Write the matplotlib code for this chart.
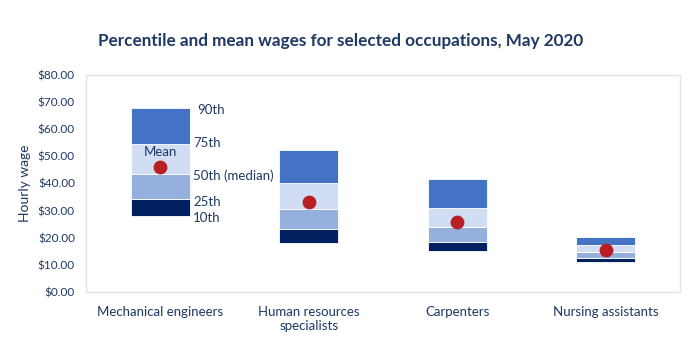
import matplotlib.pyplot as plt
import numpy as np

# hourly wage percentiles, May 2020
occupations = ["Mechanical engineers", "Human resources\nspecialists", "Carpenters", "Nursing assistants"]
p10 = [28.08, 18.2, 15.1, 11.0]
p25 = [34.32, 23.2, 18.3, 12.6]
p50 = [43.35, 30.5, 23.9, 14.8]
p75 = [54.46, 40.0, 30.8, 17.5]
p90 = [67.82, 52.2, 41.8, 20.2]
mean = [45.94, 33.2, 25.9, 15.4]

navy = "#1F3864"
plt.rcParams["font.family"] = ["Lato", "DejaVu Sans"]

fig = plt.figure(figsize=(7, 3.47), dpi=100)
ax = fig.add_axes([0.1229, 0.1585, 0.8485, 0.6254])

x = np.arange(len(occupations))
w = 0.4
bands = [
    (p10, p25, "#002060"),
    (p25, p50, "#96B0DE"),
    (p50, p75, "#D0DDF2"),
    (p75, p90, "#4472C4"),
]
for lo, hi, c in bands:
    lo = np.array(lo)
    hi = np.array(hi)
    ax.bar(x, hi - lo, bottom=lo, width=w, color=c, edgecolor="white", linewidth=0.6, zorder=2)

ax.scatter(x, mean, s=80, color="#B81F25", zorder=3)

# percentile labels beside the first box
lx = x[0] + w / 2 + 0.02
fs = 9.5
ax.text(lx + 0.03, p90[0] - 0.6, "90th", va="center", ha="left", color=navy, fontsize=fs)
ax.text(lx, p75[0] + 0.3, "75th", va="center", ha="left", color=navy, fontsize=fs)
ax.text(lx, p50[0] - 0.5, "50th (median)", va="center", ha="left", color=navy, fontsize=fs)
ax.text(lx, p25[0] - 1.0, "25th", va="center", ha="left", color=navy, fontsize=fs)
ax.text(lx, p10[0] - 0.7, "10th", va="center", ha="left", color=navy, fontsize=fs)
ax.text(x[0], mean[0] + 5.6, "Mean", va="center", ha="center", color=navy, fontsize=fs)

ax.set_xlim(-0.5, len(occupations) - 0.5)
ax.set_ylim(0, 80)
ax.set_yticks(np.arange(0, 81, 10))
ax.set_yticklabels([f"${v:.2f}" for v in np.arange(0, 81, 10)])
ax.set_xticks(x)
ax.set_xticklabels(occupations)
ax.tick_params(length=0, colors=navy)
ax.tick_params(axis="x", pad=10, labelsize=9.5)
ax.tick_params(axis="y", pad=8, labelsize=8.5)
for s in ax.spines.values():
    s.set_color("#E3E3E3")
    s.set_linewidth(1)

ax.set_ylabel("Hourly wage", color=navy, fontsize=10, labelpad=5)
fig.suptitle("Percentile and mean wages for selected occupations, May 2020",
             x=0.487, y=0.905, color=navy, fontsize=12.3, fontweight="bold")

fig.savefig("out.png", dpi=100)
